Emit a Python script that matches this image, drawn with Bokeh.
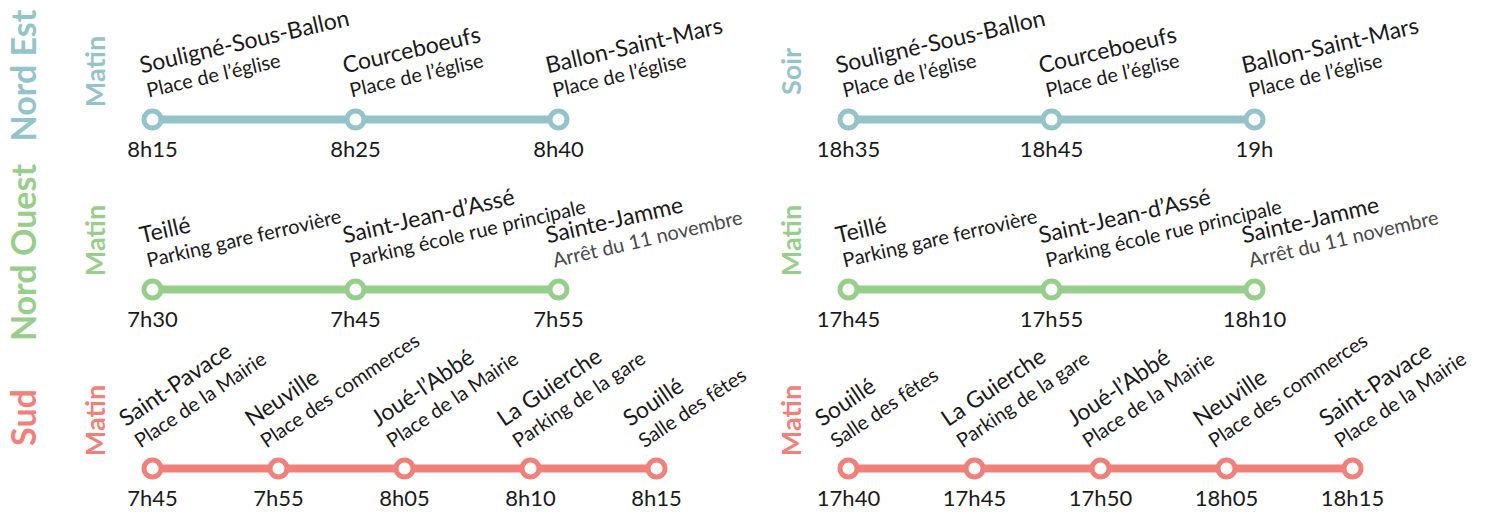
import math
from bokeh.plotting import figure
from bokeh.models import Range1d, ColumnDataSource
from bokeh.core.properties import value
from bokeh.embed import file_html
from bokeh.resources import INLINE

# ---------------- data ----------------
group_names = ["Nord Est", "Nord Ouest", "Sud"]
group_colors = ["#94c4ca", "#98ce8b", "#f0807a"]
period_left = ["Matin", "Matin", "Matin"]
period_right = ["Soir", "Matin", "Matin"]

ne_stops_left = ["Souligné-Sous-Ballon", "Courceboeufs", "Ballon-Saint-Mars"]
ne_places_left = ["Place de l’église", "Place de l’église", "Place de l’église"]
ne_times_left = ["8h15", "8h25", "8h40"]
ne_stops_right = ["Souligné-Sous-Ballon", "Courceboeufs", "Ballon-Saint-Mars"]
ne_places_right = ["Place de l’église", "Place de l’église", "Place de l’église"]
ne_times_right = ["18h35", "18h45", "19h"]

no_stops_left = ["Teillé", "Saint-Jean-d’Assé", "Sainte-Jamme"]
no_places_left = ["Parking gare ferrovière", "Parking école rue principale", "Arrêt du 11 novembre"]
no_times_left = ["7h30", "7h45", "7h55"]
no_stops_right = ["Teillé", "Saint-Jean-d’Assé", "Sainte-Jamme"]
no_places_right = ["Parking gare ferrovière", "Parking école rue principale", "Arrêt du 11 novembre"]
no_times_right = ["17h45", "17h55", "18h10"]

sud_stops_left = ["Saint-Pavace", "Neuville", "Joué-l’Abbé", "La Guierche", "Souillé"]
sud_places_left = ["Place de la Mairie", "Place des commerces", "Place de la Mairie",
                   "Parking de la gare", "Salle des fêtes"]
sud_times_left = ["7h45", "7h55", "8h05", "8h10", "8h15"]
sud_stops_right = ["Souillé", "La Guierche", "Joué-l’Abbé", "Neuville", "Saint-Pavace"]
sud_places_right = ["Salle des fêtes", "Parking de la gare", "Place de la Mairie",
                    "Place des commerces", "Place de la Mairie"]
sud_times_right = ["17h40", "17h45", "17h50", "18h05", "18h15"]

# ---------------- layout ----------------
W, H = 1484, 511
FONT = value("Lato")
TXT = "#1a1a1a"
LIFT = 8  # shift texts "up" in their own frame


def lift(xs, ys, ang, d=LIFT):
    return ([x - d * math.sin(ang) for x in xs], [y - d * math.cos(ang) for y in ys])


p = figure(width=W, height=H, output_backend="svg", toolbar_location=None,
           x_range=Range1d(0, W), y_range=Range1d(H, 0),
           min_border=0)
p.axis.visible = False
p.grid.visible = False
p.outline_line_color = None
p.background_fill_color = "white"
p.border_fill_color = "white"

row_y = [119, 289, 468]
panel_x0 = [152, 848]
label_y = [75, 252, 417]
period_y = [71, 240, 420]

rows = [
    [(ne_stops_left, ne_places_left, ne_times_left), (ne_stops_right, ne_places_right, ne_times_right)],
    [(no_stops_left, no_places_left, no_times_left), (no_stops_right, no_places_right, no_times_right)],
    [(sud_stops_left, sud_places_left, sud_times_left), (sud_stops_right, sud_places_right, sud_times_right)],
]

V = math.pi / 2
for r, (grp, col) in enumerate(zip(group_names, group_colors)):
    p.text(x=[22], y=[label_y[r]], text=[grp], angle=V,
           text_align="center", text_baseline="middle", text_color=col,
           text_font=FONT, text_font_size="34px", text_font_style="bold")
    for side in range(2):
        stops, places, times = rows[r][side]
        n = len(stops)
        step = 203 if n == 3 else 126
        xs = [panel_x0[side] + i * step for i in range(n)]
        ys = [row_y[r]] * n
        per = period_left[r] if side == 0 else period_right[r]
        p.text(x=[panel_x0[side] - 58], y=[period_y[r]], text=[per], angle=V,
               text_align="center", text_baseline="middle", text_color=col,
               text_font=FONT, text_font_size="27px", text_font_style="bold")
        p.line(x=xs, y=ys, line_color=col, line_width=8)
        p.scatter(x=xs, y=ys, size=17, fill_color="white", line_color=col, line_width=5)
        tx, ty = lift(xs, [row_y[r] + 37] * n, 0)
        p.text(x=tx, y=ty, text=times, text_align="center",
               text_baseline="alphabetic", text_color=TXT, text_font=FONT,
               text_font_size="22px")
        if n == 3:
            ang = math.radians(13)
            nd, ndy, sd, sdy = -11, -47, -4, -22
        else:
            ang = math.radians(34)
            nd, ndy, sd, sdy = -27, -42, -12, -20
        nx, ny = lift([x + nd for x in xs], [row_y[r] + ndy] * n, ang)
        p.text(x=nx, y=ny, text=stops, angle=ang,
               text_align="left", text_baseline="alphabetic", text_color=TXT,
               text_font=FONT, text_font_size="23px")
        pcols = ["#4a4a4a" if s.startswith("Arrêt") else TXT for s in places]
        px, py = lift([x + sd for x in xs], [row_y[r] + sdy] * n, ang)
        src = ColumnDataSource(dict(x=px, y=py, t=places, c=pcols))
        p.text(x="x", y="y", text="t", source=src, angle=ang,
               text_align="left", text_baseline="alphabetic", text_color="c",
               text_font=FONT, text_font_size="20px")

open("out.html", "w").write(file_html(p, INLINE))
